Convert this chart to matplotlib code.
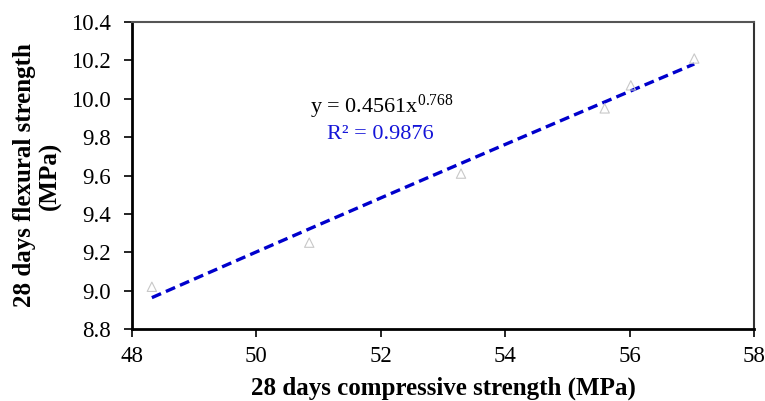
import numpy as np
import matplotlib.pyplot as plt

# 28-day test results
compressive = [48.32, 50.85, 53.29, 55.60, 56.02, 57.04]
flexural = [9.02, 9.25, 9.61, 9.95, 10.07, 10.21]

# power-law fit y = a * x^b
fit_a, fit_b, fit_r2 = 0.4561, 0.768, 0.9876

x_ticks = [48, 50, 52, 54, 56, 58]
y_ticks = [8.8, 9.0, 9.2, 9.4, 9.6, 9.8, 10.0, 10.2, 10.4]

plt.rcParams['font.family'] = ['Liberation Serif', 'DejaVu Serif']
plt.rcParams['mathtext.default'] = 'regular'

fig = plt.figure(figsize=(7.65, 4.01), dpi=100)
ax = fig.add_axes([0.1725, 0.1796, 0.8131, 0.7654])

ax.scatter(compressive, flexural, marker='^', s=45, facecolors='none',
           edgecolors='#c8c8c8', linewidths=0.8, zorder=3)

x_fit = np.linspace(min(compressive), max(compressive), 100)
y_fit = fit_a * x_fit ** fit_b
ax.plot(x_fit, y_fit, color='#0000cc', linestyle=(0, (3, 1.6)), lw=2.4, zorder=2)

ax.text(0.286, 0.705, 'y = %.4fx$^{%.3f}$' % (fit_a, fit_b), transform=ax.transAxes,
        fontsize=16, color='black')
ax.text(0.313, 0.62, 'R² = %.4f' % fit_r2, transform=ax.transAxes,
        fontsize=16, color='#1515d8')

ax.set_xlim(48, 58)
ax.set_ylim(8.8, 10.4)
ax.set_xticks(x_ticks)
ax.set_yticks(y_ticks)
ax.set_yticklabels(['%.1f' % v for v in y_ticks])
ax.tick_params(direction='out', length=6, width=1.2, labelsize=16.5)
ax.tick_params(axis='y', pad=9)
ax.tick_params(axis='x', pad=6)

ax.set_xlabel('28 days compressive strength (MPa)', fontsize=18,
              fontweight='bold', labelpad=7)
ax.set_ylabel('28 days flexural strength\n(MPa)', fontsize=18,
              fontweight='bold', labelpad=7, linespacing=1.1)

# heavier left/bottom axes, grey frame on top/right
ax.spines[['left', 'bottom']].set_linewidth(2)
ax.spines[['left', 'bottom']].set_color('black')
ax.spines['top'].set_color('#555555')
ax.spines['right'].set_color('#333333')
ax.spines[['top', 'right']].set_linewidth(1.5)

fig.savefig('out.png', dpi=100)
